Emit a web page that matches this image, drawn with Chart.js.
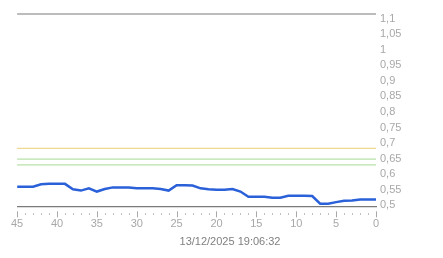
<!DOCTYPE html>
<html><head><meta charset="utf-8">
<script src="https://cdn.jsdelivr.net/npm/chart.js@4/dist/chart.umd.min.js"></script>
<style>html,body{margin:0;padding:0;background:#fff}#w{width:443px;height:258px}</style>
</head><body><div id="w"><canvas id="c"></canvas></div>
<script>
const xPositions = [45,44,43,42,41,40,39,38,37,36,35,34,33,32,31,30,29,28,27,26,25,24,23,22,21,20,19,18,17,16,15,14,13,12,11,10,9,8,7,6,5,4,3,2,1,0];
const seriesValues = [0.561,0.561,0.561,0.569,0.570,0.570,0.570,0.553,0.549,0.556,0.546,0.554,0.559,0.559,0.559,0.556,0.556,0.556,0.554,0.549,0.566,0.566,0.565,0.556,0.553,0.552,0.552,0.554,0.546,0.530,0.530,0.530,0.527,0.527,0.533,0.533,0.533,0.532,0.508,0.508,0.513,0.517,0.518,0.521,0.521,0.521];
const thresholdOrange = 0.681;
const thresholdGreenHigh = 0.647;
const thresholdGreenLow = 0.629;
const topLineValue = 1.1;
const yTickValues = [0.5,0.55,0.6,0.65,0.7,0.75,0.8,0.85,0.9,0.95,1,1.05,1.1];
const xMajorTicks = [45,40,35,30,25,20,15,10,5,0];
const titleText = '13/12/2025 19:06:32';

const fmt = v => String(Math.round(v*100)/100).replace('.', ',');
const hline = (v, color, w) => ({
  data: [{x:45,y:v},{x:0,y:v}], borderColor: color, borderWidth: w,
  pointRadius: 0, clip: false, order: 2
});

const minorTicks = {
  id: 'minorTicks',
  afterDraw(chart) {
    const xs = chart.scales.x, ctx = chart.ctx;
    ctx.save();
    ctx.strokeStyle = '#a8a8a8';
    ctx.lineWidth = 1;
    for (let k = 0; k <= 45; k++) {
      const px = Math.round(xs.getPixelForValue(k)) + 0.5;
      ctx.beginPath();
      if (k % 5 === 0) { ctx.moveTo(px, xs.top + 5); ctx.lineTo(px, xs.top + 11); }
      else { ctx.moveTo(px, xs.top + 7); ctx.lineTo(px, xs.top + 8.5); }
      ctx.stroke();
    }
    ctx.restore();
  }
};

new Chart(document.getElementById('c'), {
  type: 'line',
  data: {
    datasets: [
      { data: xPositions.map((x,i)=>({x, y: seriesValues[i]})), borderColor: '#2a60d8', borderWidth: 2.5, pointRadius: 0, tension: 0, order: 1 },
      hline(thresholdOrange, '#f0d890', 1.2),
      hline(thresholdGreenHigh, '#b8e2a8', 1.2),
      hline(thresholdGreenLow, '#b8e2a8', 1.2),
      hline(topLineValue, '#7a7a7a', 1.2)
    ]
  },
  plugins: [minorTicks],
  options: {
    responsive: true, maintainAspectRatio: false, animation: false,
    layout: { padding: { top: 14, left: 17, right: 0, bottom: 0 } },
    plugins: {
      legend: { display: false }, tooltip: { enabled: false },
      title: { display: true, position: 'bottom', text: titleText, color: '#808080',
        font: { family: 'Liberation Sans', size: 11, weight: 'normal' }, padding: { top: 0, bottom: 9 } }
    },
    scales: {
      x: {
        type: 'linear', min: 0, max: 45, reverse: true,
        afterBuildTicks: s => { s.ticks = xMajorTicks.map(v => ({value: v})); },
        afterFit: s => { s.height = 29.5; },
        grid: { display: false, drawTicks: false },
        border: { display: true, color: '#7a7a7a', width: 1.2 },
        ticks: { color: '#a8a8a8', padding: 11, maxRotation: 0, autoSkip: false,
          font: { family: 'Liberation Sans', size: 11 } }
      },
      y: { display: false, min: 0.5, max: 1.1 },
      y2: {
        position: 'right', min: 0.4968, max: 1.1151,
        afterBuildTicks: s => { s.ticks = yTickValues.map(v => ({value: v})); },
        afterFit: s => { s.width = 67; },
        grid: { display: false, drawTicks: false },
        border: { display: false },
        ticks: { color: '#a8a8a8', padding: 4, autoSkip: false, callback: v => fmt(v),
          font: { family: 'Liberation Sans', size: 11 } }
      }
    }
  }
});
</script></body></html>
